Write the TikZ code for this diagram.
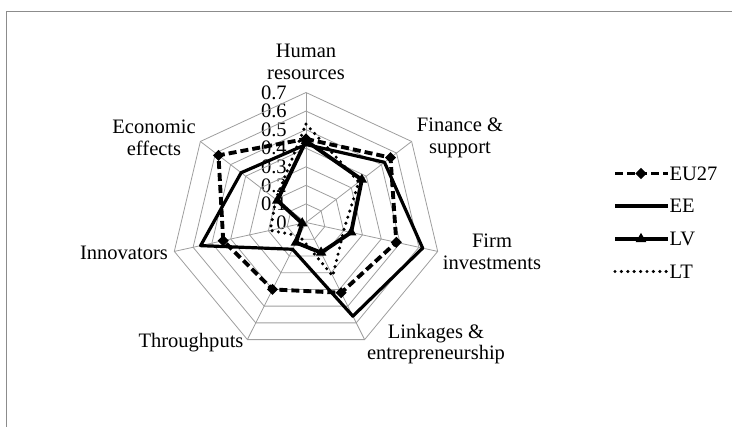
\documentclass[tikz,border=0pt]{standalone}
\usepackage{fontspec}
\setmainfont{Liberation Serif}
\usetikzlibrary{shapes.geometric}
\newcommand{\radarfont}{\fontsize{15.4pt}{16.3pt}\selectfont}
\tikzset{
  gridline/.style={draw=black!38, line width=0.6pt},
  eudash/.style={line width=2.9pt, dash pattern=on 6pt off 3pt},
  eeline/.style={line width=2.4pt, line join=round},
  lvline/.style={line width=2.9pt, line join=round},
  ltdots/.style={line width=2.6pt, line cap=round, dash pattern=on 0pt off 4.8pt},
  eumark/.style={diamond, fill=black, inner sep=0pt, minimum width=8.5pt, minimum height=8.5pt},
  lvmark/.style={regular polygon, regular polygon sides=3, fill=black, inner sep=0pt, minimum size=9.2pt},
  catlabel/.style={align=center, inner sep=0pt, font=\radarfont},
  leglabel/.style={anchor=west, inner sep=1pt, font=\radarfont},
}
\begin{document}
\begin{tikzpicture}[x=0.75pt,y=0.75pt,yscale=-1,xscale=1]
		\useasboundingbox (0,0) rectangle (732,427);

		%Frame
		\draw [black!45, line width=1.2pt] (6.5,427) -- (6.5,11.5) -- (732,11.5) ;

		% Text Node (scale)
		\foreach \r in {0,...,7}
			\node [anchor=east, inner sep=0pt, font=\radarfont] (t\r) at (287,{222.5-18.57*\r}) {\ifnum\r=0 0\else 0.\r\fi};

		\begin{scope}[shift={(306,222.5)}, xscale=193, yscale=-185.7]
			%Grid
			\foreach \k in {0,...,6}
				\draw [gridline] (0,0) -- ({90-\k*360/7}:0.7) ;
			\foreach \r in {1,...,7}
				\draw [gridline] (90:{\r/10}) \foreach \k in {1,...,6} {-- ({90-\k*360/7}:{\r/10})} -- cycle ;

			%Series points
			\foreach \v [count=\i from 0] in {0.45,0.56,0.48,0.42,0.40,0.44,0.58}
				\coordinate (eu\i) at ({90-\i*360/7}:\v);
			\foreach \v [count=\i from 0] in {0.42,0.52,0.62,0.56,0.16,0.56,0.43}
				\coordinate (ee\i) at ({90-\i*360/7}:\v);
			\foreach \v [count=\i from 0] in {0.44,0.37,0.24,0.18,0.12,0.02,0.19}
				\coordinate (lv\i) at ({90-\i*360/7}:\v);
			\foreach \v [count=\i from 0] in {0.53,0.35,0.20,0.32,0.08,0.19,0.20}
				\coordinate (lt\i) at ({90-\i*360/7}:\v);
		\end{scope}

		%Series lines
		\draw [ltdots] (lt0) -- (lt1) -- (lt2) -- (lt3) -- (lt4) -- (lt5) -- (lt6) -- cycle ;
		\draw [eeline] (ee0) -- (ee1) -- (ee2) -- (ee3) -- (ee4) -- (ee5) -- (ee6) -- cycle ;
		\draw [eudash] (eu0) -- (eu1) -- (eu2) -- (eu3) -- (eu4) -- (eu5) -- (eu6) -- cycle ;
		\draw [lvline] (lv0) -- (lv1) -- (lv2) -- (lv3) -- (lv4) -- (lv5) -- (lv6) -- cycle ;
		\foreach \i in {0,...,6} {
			\node [eumark] (eum\i) at (eu\i) {};
			\node [lvmark] (lvm\i) at (lv\i) {};
		}

		% Text Node
		\node [catlabel] (hr) at (306,62) {Human\\resources};
		% Text Node
		\node [catlabel] (fs) at (460,138) {Finance \&\\support};
		% Text Node
		\node [catlabel] (fi) at (492,251.5) {Firm\\investments};
		% Text Node
		\node [catlabel] (le) at (436,344) {Linkages \&\\entrepreneurship};
		% Text Node
		\node [catlabel] (th) at (191,343) {Throughputs};
		% Text Node
		\node [catlabel] (inn) at (124,253) {Innovators};
		% Text Node
		\node [catlabel] (ec) at (154,137.5) {Economic\\effects};

		%Legend
		\node [leglabel] (leu) at (668,173.5) {EU27};
		\node [leglabel] (lee) at (668,206) {EE};
		\node [leglabel] (llv) at (668,239) {LV};
		\node [leglabel] (llt) at (668,271.5) {LT};
		\coordinate (leua) at (615,173.5);
		\coordinate (leea) at (615,206);
		\coordinate (llva) at (615,239);
		\coordinate (llta) at (615,271.5);
		\draw [eudash] (leua) -- (leu.west) ;
		\draw [eeline] (leea) -- (lee.west) ;
		\draw [lvline] (llva) -- (llv.west) ;
		\draw [ltdots] (llta) -- (llt.west) ;
		\node [eumark] (leum) at (641,173.5) {};
		\node [lvmark] (llvm) at (641,239) {};

\end{tikzpicture}
\end{document}
